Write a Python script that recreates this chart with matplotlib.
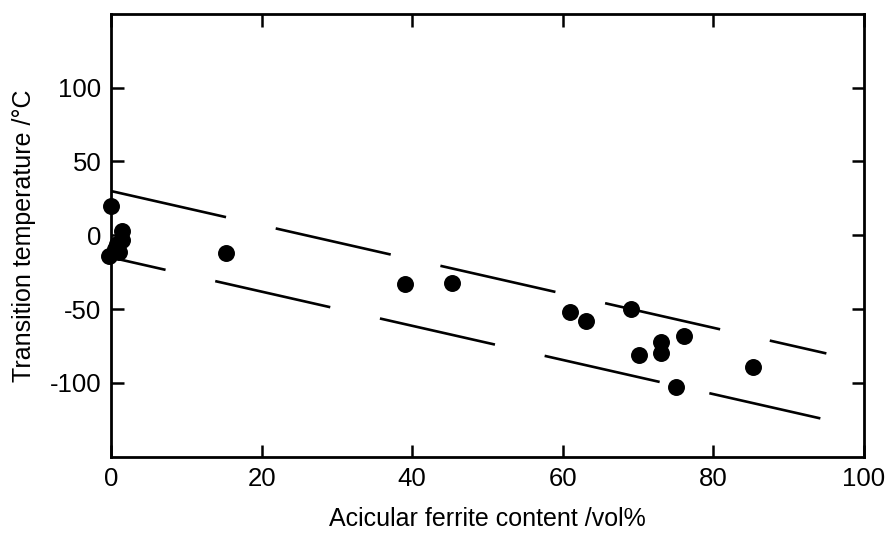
import numpy as np
import matplotlib.pyplot as plt

plt.rcParams['font.family'] = ['Liberation Sans', 'DejaVu Sans']
plt.rcParams['axes.unicode_minus'] = False

# Acicular ferrite content (vol%) and transition temperature (deg C)
af_content = [0.0, 1.5, 1.5, 0.8, 0.5, 1.0, -0.3,
              15.3, 39.0, 45.3, 61.0, 63.1, 69.1, 70.1,
              73.0, 73.0, 76.1, 75.0, 85.3]
trans_temp = [20, 3, -3, -6, -9, -11, -14,
              -12, -33, -32, -52, -58, -50, -81,
              -72, -80, -68, -103, -89]

# scatter band limits (straight lines)
upper_x = [0, 95]
upper_y = [30, -80]
lower_x = [0, 94.2]
lower_y = [-15, -124]

fig = plt.figure(figsize=(8.88, 5.33), dpi=100)
ax = fig.add_axes([0.125, 0.143, 0.848, 0.831])

# dash lengths are in units of linewidth
ax.plot(upper_x, upper_y, color='black', lw=1.9,
        linestyle=(0, (44.7, 19.3)), dash_capstyle='butt')
ax.plot(lower_x, lower_y, color='black', lw=1.9,
        linestyle=(23.5, (44.7, 19.3)), dash_capstyle='butt')

ax.scatter(af_content, trans_temp, s=125, color='black', zorder=3, clip_on=False)

ax.set_xlim(0, 100)
ax.set_ylim(-150, 150)
ax.set_xticks([0, 20, 40, 60, 80, 100])
ax.set_yticks([-100, -50, 0, 50, 100])
ax.tick_params(direction='in', length=9, width=1.8, top=True, right=True,
               labelsize=18.5, pad=7)
for sp in ax.spines.values():
    sp.set_linewidth(2)

ax.set_xlabel('Acicular ferrite content /vol%', fontsize=18, labelpad=12)
ax.set_ylabel('Transition temperature /°C', fontsize=18, labelpad=10)

fig.savefig('out.png', dpi=100)
